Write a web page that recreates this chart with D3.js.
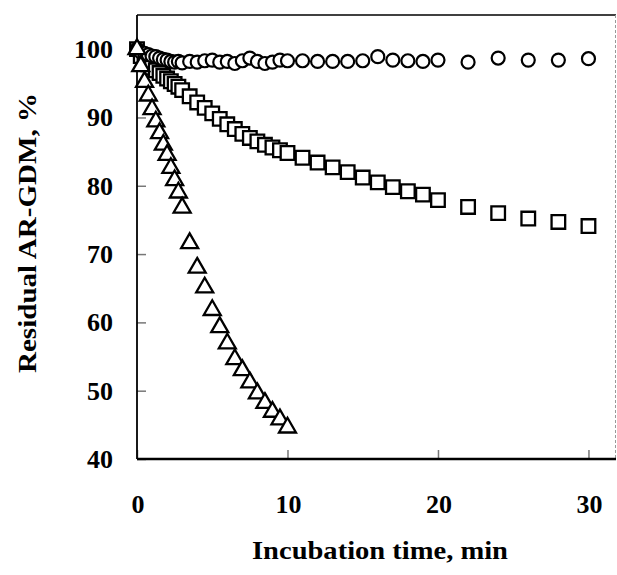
<!DOCTYPE html>
<html>
<head>
<meta charset="utf-8">
<script src="https://cdn.jsdelivr.net/npm/d3@7/dist/d3.min.js"></script>
<style>
  html, body { margin: 0; padding: 0; background: #fff; }
  svg { display: block; }
  text { font-family: "Liberation Serif", "Times New Roman", serif; font-weight: bold; fill: #000; }
</style>
</head>
<body>
<script>
// ---- Data ----
const timesA = [0,0.25,0.5,0.75,1,1.25,1.5,1.75,2,2.25,2.5,2.75,3,
                3.5,4,4.5,5,5.5,6,6.5,7,7.5,8,8.5,9,9.5,10,
                11,12,13,14,15,16,17,18,19,20,22,24,26,28,30];
const circleValues = [100,99.6,99.4,99.2,99.0,98.9,98.7,98.5,98.4,98.2,98.1,98.2,98.0,
                98.2,98.1,98.3,98.4,98.1,98.2,97.9,98.3,98.7,98.2,97.9,98.1,98.4,98.3,
                98.3,98.2,98.2,98.2,98.3,98.9,98.4,98.3,98.2,98.4,98.1,98.7,98.4,98.4,98.6];
const squareValues = [100,99.0,98.3,97.8,97.3,96.9,96.5,96.1,95.7,95.3,94.9,94.5,94.0,
                93.1,92.2,91.4,90.6,89.8,89.0,88.3,87.6,87.0,86.5,86.0,85.6,85.2,84.8,
                84.1,83.4,82.7,82.0,81.2,80.5,79.8,79.2,78.7,77.9,76.9,76.0,75.2,74.7,74.1];
const timesB = [0,0.25,0.5,0.75,1,1.25,1.5,1.75,2,2.25,2.5,2.75,3,
                3.5,4,4.5,5,5.5,6,6.5,7,7.5,8,8.5,9,9.5,10];
const triangleValues = [100,97.5,95.2,93.2,91.2,89.4,87.7,86.0,84.5,82.6,80.8,79.0,76.8,
                71.6,68.0,65.1,61.8,59.3,56.9,54.6,53.0,51.2,49.6,48.2,46.9,45.8,44.6];
const xTicks = [0,10,20,30];
const yTicks = [40,50,60,70,80,90,100];
const xTitle = "Incubation time, min";
const yTitle = "Residual AR-GDM, %";

// ---- Layout ----
const W = 617, H = 575;
const L = 137, R = 616, T = 15, B = 459;

const svg = d3.select("body").append("svg").attr("width", W).attr("height", H);

const x = d3.scaleLinear().domain([0, 31.83]).range([L, R]);
const y = d3.scaleLinear().domain([40, 105]).range([B, T]);

// frame: top border, right border
svg.append("line").attr("x1", L).attr("x2", R).attr("y1", T).attr("y2", T)
  .attr("stroke", "#000").attr("stroke-width", 1.5);
svg.append("line").attr("x1", R - 0.5).attr("x2", R - 0.5).attr("y1", T).attr("y2", B)
  .attr("stroke", "#999").attr("stroke-width", 1).attr("stroke-dasharray", "3,2");

// axes with inward gray ticks
const xAxis = svg.append("g").attr("transform", `translate(0,${B})`)
  .call(d3.axisBottom(x).tickValues(xTicks).tickSize(-9).tickFormat(""));
xAxis.select(".domain").remove();
xAxis.selectAll(".tick line").attr("stroke", "#777").attr("stroke-width", 1.5);

const yAxis = svg.append("g").attr("transform", `translate(${L},0)`)
  .call(d3.axisLeft(y).tickValues(yTicks).tickSize(-9).tickFormat(""));
yAxis.select(".domain").remove();
yAxis.selectAll(".tick line").attr("stroke", "#777").attr("stroke-width", 1.5);

svg.append("line").attr("x1", L).attr("x2", L).attr("y1", T).attr("y2", B)
  .attr("stroke", "#000").attr("stroke-width", 1.8);
svg.append("line").attr("x1", L).attr("x2", R).attr("y1", B).attr("y2", B)
  .attr("stroke", "#000").attr("stroke-width", 2.6);

// tick labels
svg.append("g").selectAll("text").data(xTicks).join("text")
  .attr("x", d => x(d) + 1).attr("y", 513)
  .attr("text-anchor", "middle").attr("font-size", 26)
  .text(d => d);
svg.append("g").selectAll("text").data(yTicks).join("text")
  .attr("x", 113).attr("y", d => y(d) + 9)
  .attr("text-anchor", "end").attr("font-size", 26)
  .text(d => d);

// titles
svg.append("text").attr("x", 380).attr("y", 559).attr("text-anchor", "middle")
  .attr("font-size", 26).attr("textLength", 256).attr("lengthAdjust", "spacingAndGlyphs")
  .text(xTitle);
svg.append("text").attr("transform", "translate(36,233) rotate(-90)")
  .attr("text-anchor", "middle").attr("font-size", 26)
  .attr("textLength", 280).attr("lengthAdjust", "spacingAndGlyphs")
  .text(yTitle);

// ---- Markers ----
const squares = timesA.map((t, i) => ({t, v: squareValues[i]}));
const circles = timesA.map((t, i) => ({t, v: circleValues[i]}));
const triangles = timesB.map((t, i) => ({t, v: triangleValues[i]}));

const sq = d3.symbol().type(d3.symbolSquare).size(185);
const tri = d3.symbol().type(d3.symbolTriangle).size(125);

svg.append("g").selectAll("path").data(squares).join("path")
  .attr("d", sq).attr("transform", d => `translate(${x(d.t)},${y(d.v)})`)
  .attr("fill", "#fff").attr("stroke", "#000").attr("stroke-width", 2.3);

svg.append("g").selectAll("circle").data(circles).join("circle")
  .attr("cx", d => x(d.t)).attr("cy", d => y(d.v)).attr("r", 6.5)
  .attr("fill", "#fff").attr("stroke", "#000").attr("stroke-width", 2.2);

svg.append("g").selectAll("path").data(triangles).join("path")
  .attr("d", tri).attr("transform", d => `translate(${x(d.t)},${y(d.v)})`)
  .attr("fill", "#fff").attr("stroke", "#000").attr("stroke-width", 2.3);
</script>
</body>
</html>
